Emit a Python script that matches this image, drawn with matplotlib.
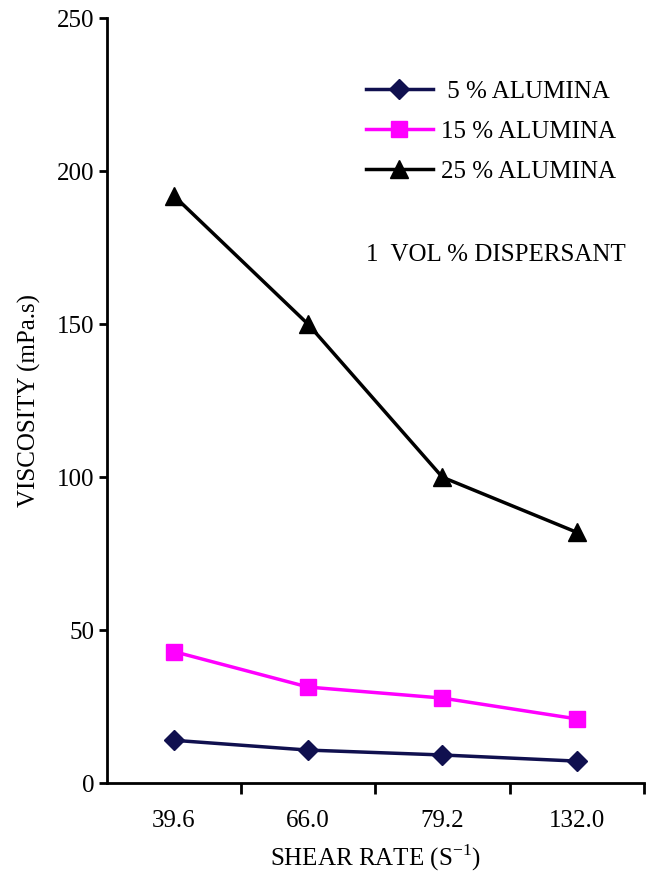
import matplotlib.pyplot as plt

# data
shear_rates = ["39.6", "66.0", "79.2", "132.0"]
alumina_5 = [14.0, 10.8, 9.2, 7.2]
alumina_15 = [43.0, 31.4, 27.8, 21.0]
alumina_25 = [192.0, 150.0, 100.0, 82.0]
y_ticks = [0, 50, 100, 150, 200, 250]

serif = 'Liberation Serif'
plt.rcParams['font.family'] = 'serif'
plt.rcParams['font.serif'] = [serif]
plt.rcParams['mathtext.fontset'] = 'custom'
plt.rcParams['mathtext.rm'] = serif

fs = 18
fig = plt.figure(figsize=(6.51, 8.75), dpi=100)
ax = fig.add_axes([0.164, 0.105, 0.825, 0.874])

x = range(len(shear_rates))
ax.plot(x, alumina_5, color='#10104f', lw=2.5, marker='D', ms=10, label=' 5 % ALUMINA')
ax.plot(x, alumina_15, color='#ff00ff', lw=2.5, marker='s', ms=11, label='15 % ALUMINA')
ax.plot(x, alumina_25, color='black', lw=2.5, marker='^', ms=13, label='25 % ALUMINA')

ax.set_xlim(-0.5, 3.5)
ax.set_ylim(0, 250)
ax.set_yticks(y_ticks)

# ticks at category boundaries, labels at centres
ax.set_xticks([0.5, 1.5, 2.5, 3.5])
ax.set_xticklabels([])
ax.set_xticks(list(x), minor=True)
ax.set_xticklabels(shear_rates, minor=True, family=serif)
ax.set_yticklabels([str(v) for v in y_ticks], family=serif)
ax.tick_params(axis='x', which='minor', length=0, pad=19, labelsize=fs)
ax.tick_params(axis='x', which='major', length=8, width=2, direction='out')
ax.tick_params(axis='y', length=6, width=2, direction='out', labelsize=fs, pad=3)

for side in ['top', 'right']:
    ax.spines[side].set_visible(False)
for side in ['left', 'bottom']:
    ax.spines[side].set_linewidth(2)

ax.set_xlabel(r'SHEAR RATE (S$^{\mathregular{-1}}$)', fontsize=fs, labelpad=8, family=serif)
ax.set_ylabel('VISCOSITY (mPa.s)', fontsize=fs, labelpad=11, family=serif)

ax.legend(loc='upper left', bbox_to_anchor=(0.44, 0.948), frameon=False,
          prop={'family': serif, 'size': fs}, handlelength=2.7,
          labelspacing=0.7, handletextpad=0.3)
ax.text(0.483, 0.683, '1  VOL % DISPERSANT', transform=ax.transAxes,
        fontsize=fs, family=serif)

fig.savefig('out.png', dpi=100)
